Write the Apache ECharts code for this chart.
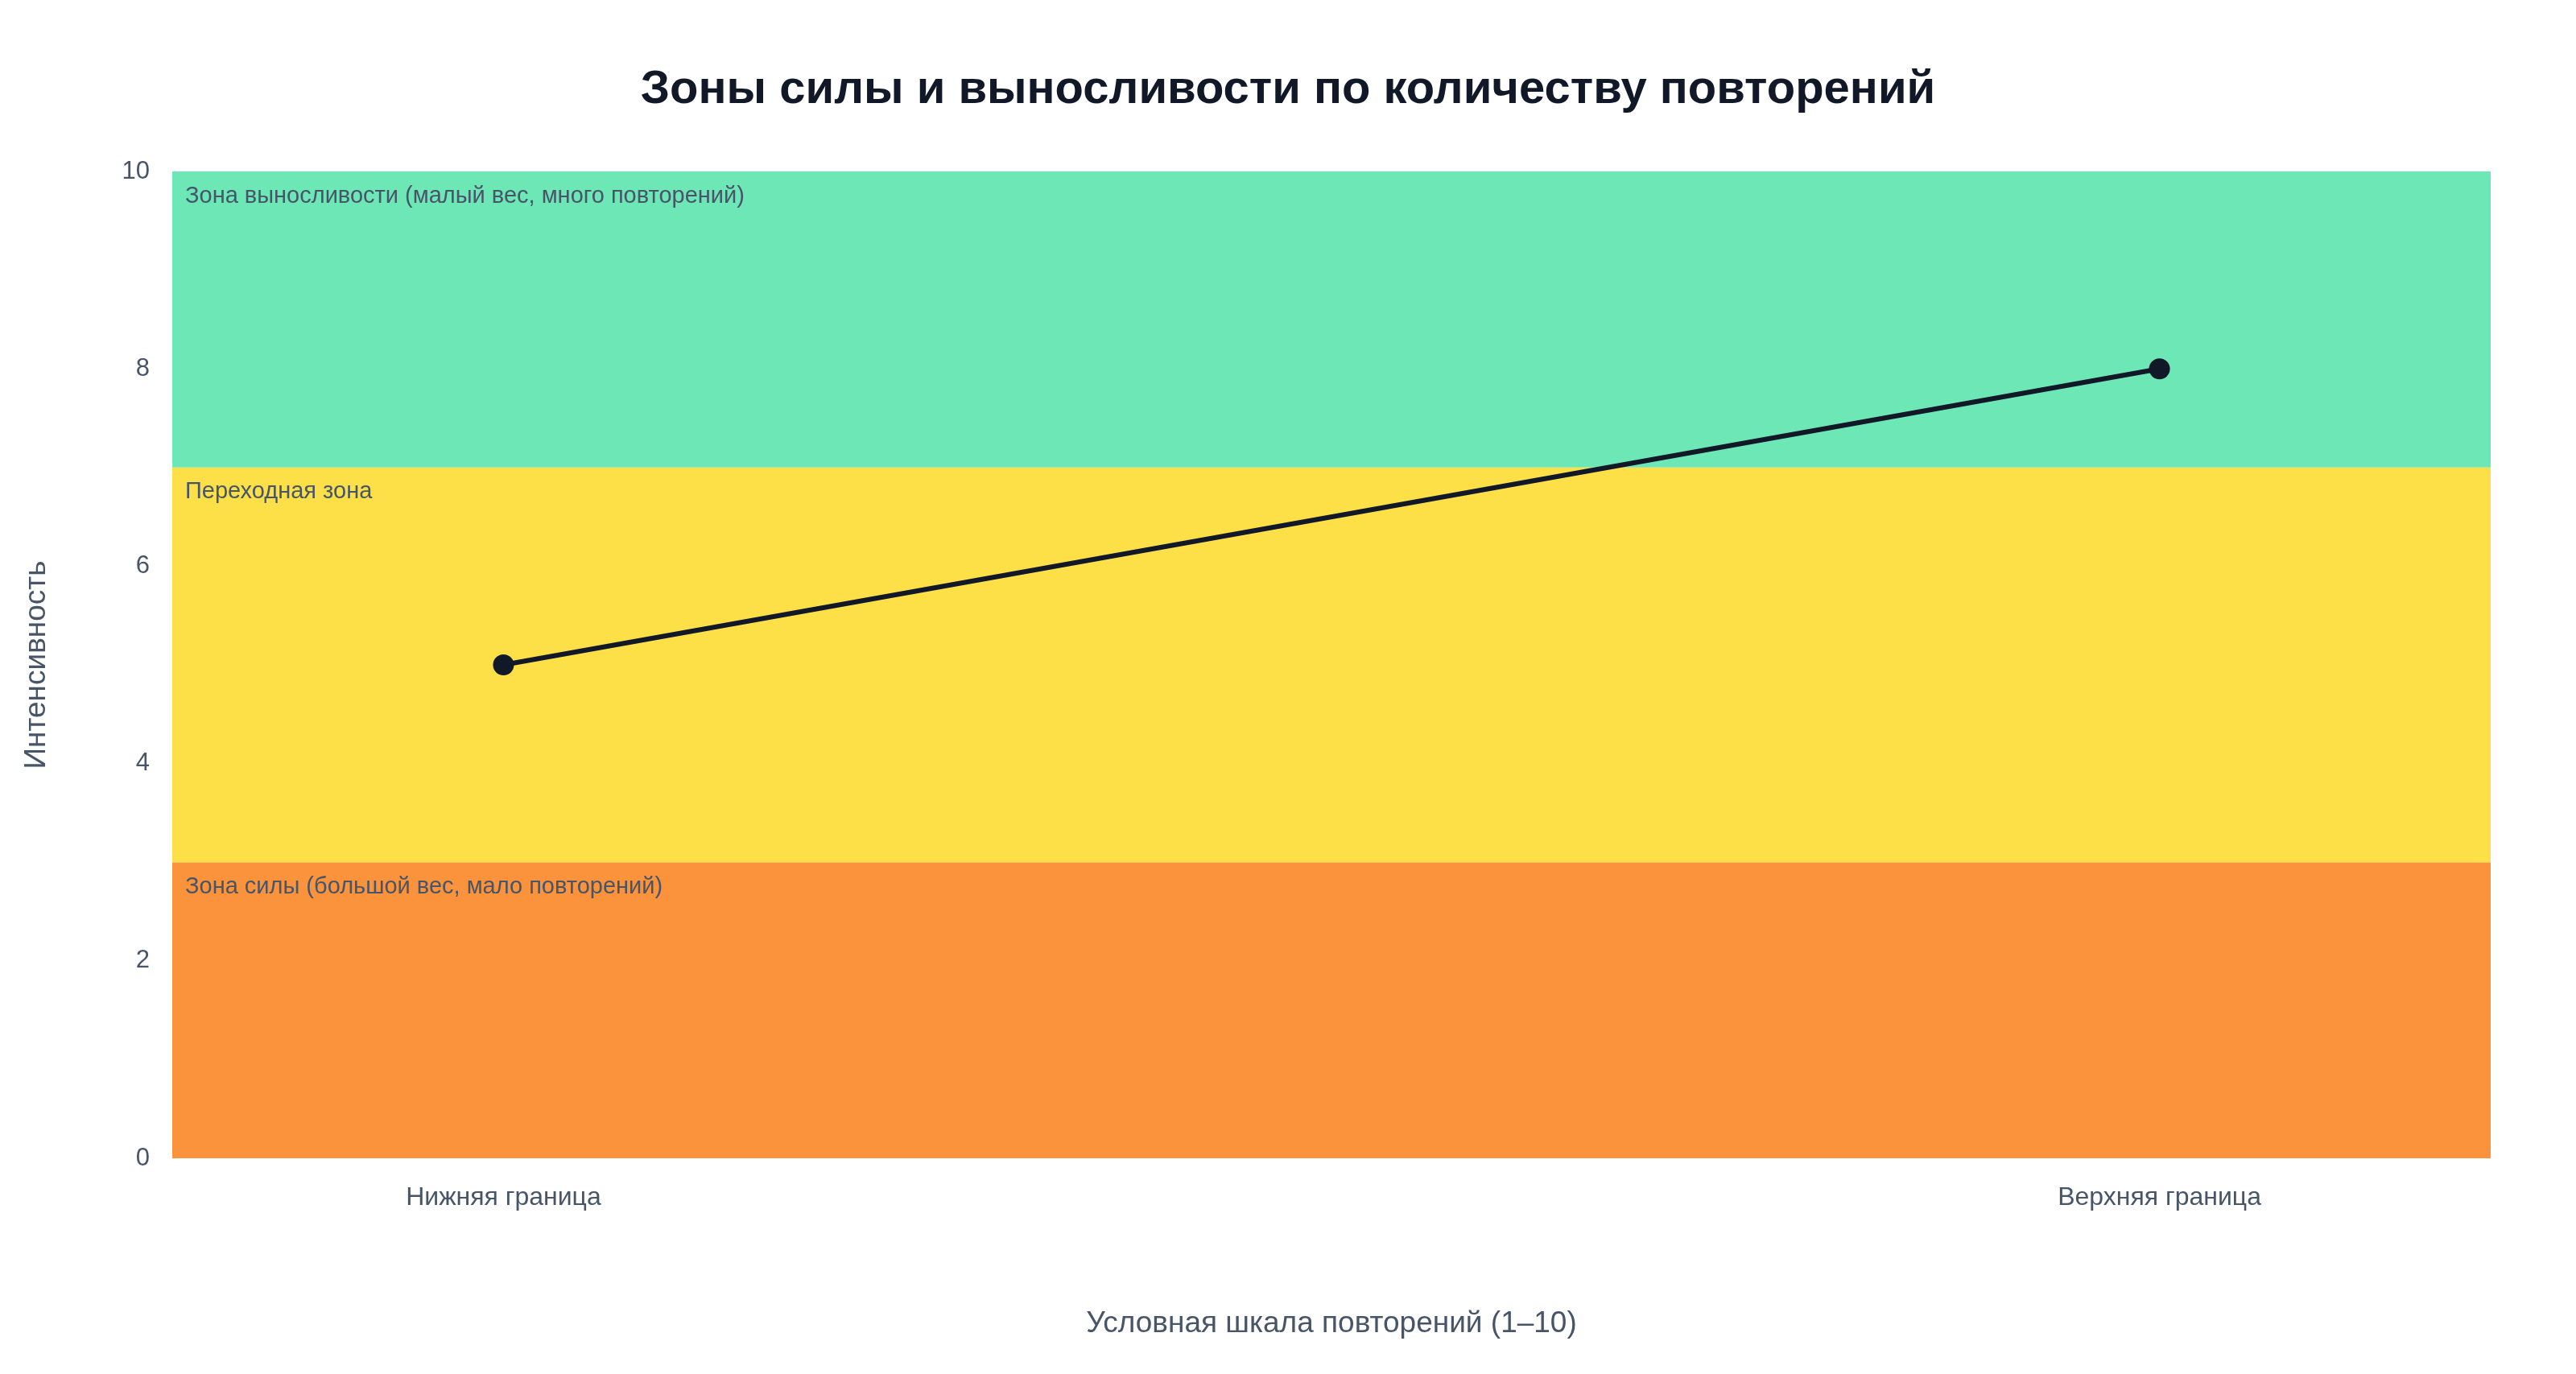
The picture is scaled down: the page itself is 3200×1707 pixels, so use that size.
<!DOCTYPE html>
<html>
<head>
<meta charset="utf-8">
<script src="https://cdn.jsdelivr.net/npm/echarts@6/dist/echarts.min.js"></script>
<style>
  html, body { margin: 0; padding: 0; background: #fff; }
  #main { width: 3200px; height: 1707px; }
</style>
</head>
<body>
<div id="main"></div>
<script>
// данные
var categories = ['Нижняя граница', 'Верхняя граница'];
var intensity = [5, 8];
var zoneNames = [
  'Зона силы (большой вес, мало повторений)',
  'Переходная зона',
  'Зона выносливости (малый вес, много повторений)'
];
var zoneFrom = [0, 3, 7];
var zoneTo = [3, 7, 10];
var yTicks = [0, 2, 4, 6, 8, 10];

var zoneColors = ['#fb923c', '#fde047', '#6ee7b7'];
var textColor = '#475569';
var font = '"Liberation Sans", Arial, sans-serif';

var myChart = echarts.init(document.getElementById('main'));

var points = intensity.map(function (v, i) { return [i, v]; });
var areas = zoneNames.map(function (n, i) {
  return [
    { yAxis: zoneFrom[i], name: n, itemStyle: { color: zoneColors[i], opacity: 1 } },
    { yAxis: zoneTo[i] }
  ];
});

option = {
  backgroundColor: '#fff',
  textStyle: { fontFamily: font },
  title: {
    text: 'Зоны силы и выносливости по количеству повторений',
    left: 'center',
    top: 78,
    textStyle: { fontSize: 58, fontWeight: 'bold', color: '#111827', fontFamily: font }
  },
  grid: { left: 214, right: 106, top: 213, bottom: 268 },
  xAxis: {
    type: 'value',
    min: -0.2,
    max: 1.2,
    name: 'Условная шкала повторений (1–10)',
    nameLocation: 'middle',
    nameGap: 187,
    nameTextStyle: { fontSize: 37, color: textColor },
    axisLine: { show: false },
    axisTick: { show: false },
    splitLine: { show: false },
    axisLabel: {
      customValues: [0, 1],
      margin: 33,
      fontSize: 32,
      color: textColor,
      formatter: function (v) { return categories[Math.round(v)]; }
    }
  },
  yAxis: {
    type: 'value',
    min: yTicks[0],
    max: yTicks[yTicks.length - 1],
    interval: 2,
    name: 'Интенсивность',
    nameLocation: 'middle',
    nameGap: 150,
    nameTextStyle: { fontSize: 37, color: textColor },
    axisLine: { show: false },
    axisTick: { show: false },
    splitLine: { show: false },
    axisLabel: { fontSize: 31, color: textColor, margin: 28 }
  },
  series: [
    {
      type: 'line',
      data: points,
      symbol: 'circle',
      symbolSize: 26,
      lineStyle: { color: '#111827', width: 6 },
      itemStyle: { color: '#111827' },
      z: 5,
      markArea: {
        silent: true,
        label: {
          show: true,
          position: 'insideTopLeft',
          distance: 16,
          fontSize: 29,
          color: textColor
        },
        data: areas
      }
    }
  ]
};
myChart.setOption(option);
window.onresize = function () {
  myChart.resize();
};
</script>
</body>
</html>
